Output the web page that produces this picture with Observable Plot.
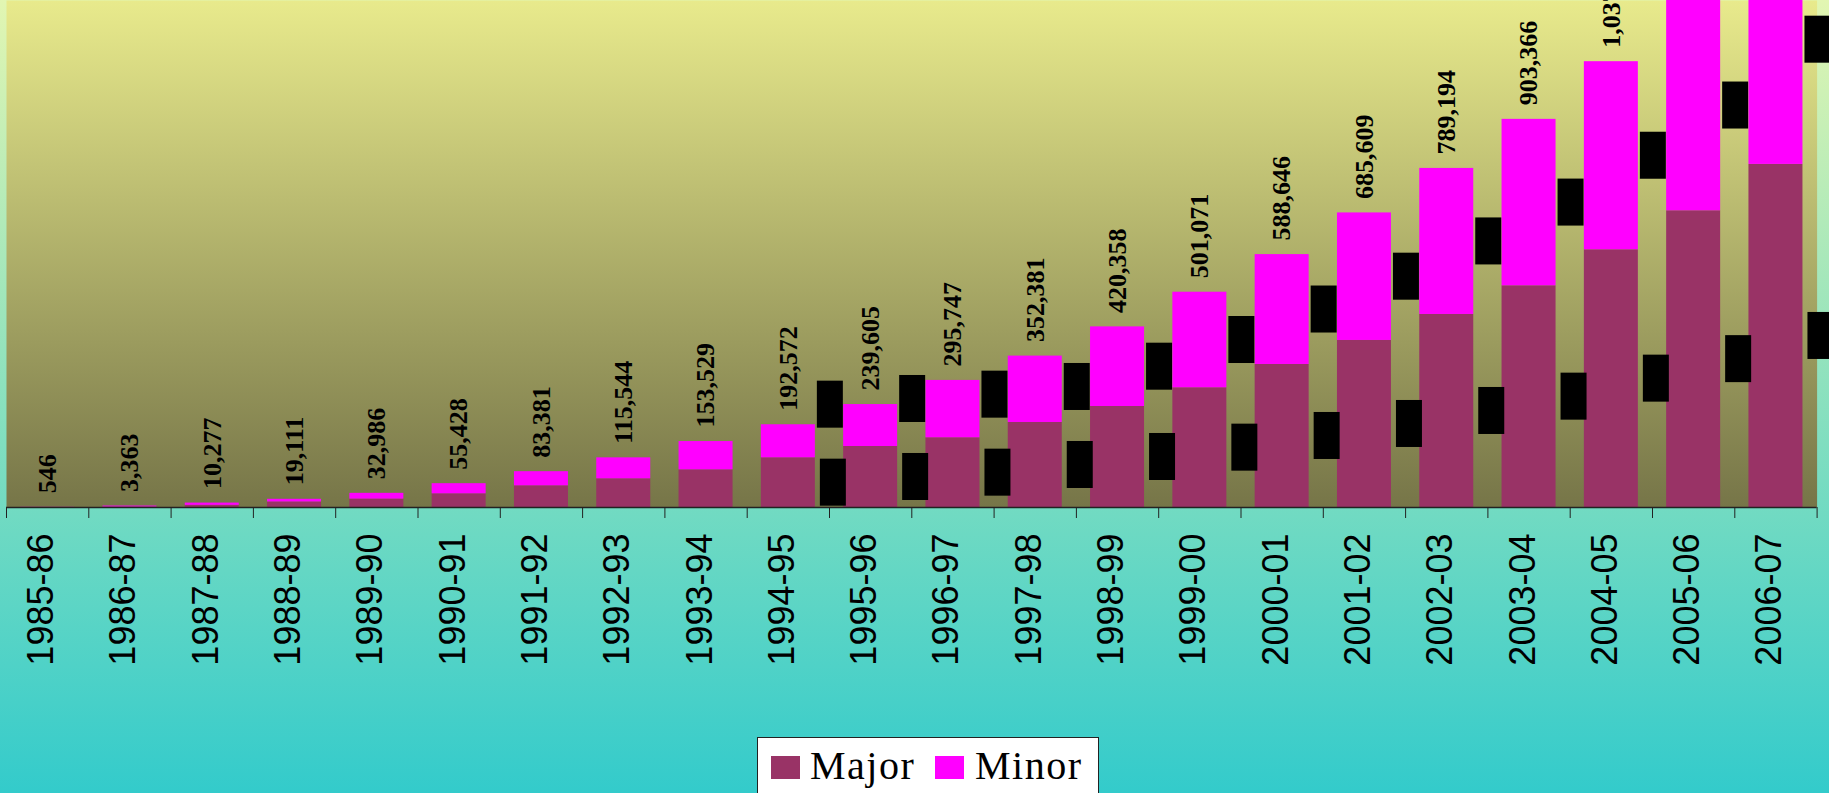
<!DOCTYPE html>
<html>
<head>
<meta charset="utf-8">
<script src="https://cdn.jsdelivr.net/npm/d3@7"></script>
<script src="https://cdn.jsdelivr.net/npm/@observablehq/plot@0.6"></script>
<style>
  html, body { margin: 0; padding: 0; }
  body {
    width: 1829px; height: 793px; overflow: hidden; position: relative;
    background: linear-gradient(to bottom, #e2f6b2 0%, #33cbcb 100%);
  }
  #chart svg { display: block; }
  #legend {
    position: absolute; left: 757px; top: 737px; width: 342px; height: 60px;
    box-sizing: border-box; background: #ffffff; border: 1px solid #222;
    font-family: "Liberation Serif", serif; font-size: 40px; color: #000;
  }
  #legend .sw { position: absolute; top: 18px; width: 29px; height: 23px; }
  #legend .lt { position: absolute; top: 8px; line-height: 40px; letter-spacing: 1.5px; white-space: nowrap; }
</style>
</head>
<body>
<div id="chart"></div>
<div id="legend"></div>
<script>
// ---- data ----
const years = ["1985-86","1986-87","1987-88","1988-89","1989-90","1990-91","1991-92","1992-93",
  "1993-94","1994-95","1995-96","1996-97","1997-98","1998-99","1999-00","2000-01","2001-02",
  "2002-03","2003-04","2004-05","2005-06","2006-07"];
const major = [300, 1200, 5000, 12800, 19500, 31800, 50400, 66700, 87600, 115600, 142000, 162200,
  197900, 235100, 278600, 332900, 388800, 449300, 516000, 599800, 690600, 798500];
const minor = [246, 2163, 5277, 6311, 13486, 23628, 32981, 48844, 65929, 76972, 97605, 133547,
  154481, 185258, 222471, 255746, 296809, 339894, 387366, 437800, 489900, 580600];
const seriesNames = ["Major", "Minor"];
const seriesColors = ["#993366", "#ff00ff"];
const segmentLabelFrom = "1994-95";

// ---- layout ----
const W = 1829, H = 737;
const mL = 6, mR = 12.4, mT = 0, mB = 230;
const yMax = 1180000;
const plotH = H - mT - mB;
const uPx = yMax / plotH;               // data units per pixel
const step = (W - mL - mR) / years.length;
const fmt = d3.format(",");

const rows = years.flatMap((yr, i) => [
  {year: yr, series: seriesNames[0], value: major[i]},
  {year: yr, series: seriesNames[1], value: minor[i]}
]);
const totals = years.map((yr, i) => ({year: yr, total: major[i] + minor[i]}));
const startIdx = years.indexOf(segmentLabelFrom);
const segs = years.map((yr, i) => ({
  year: yr, i,
  lo: major[i] / 2,
  hi: Math.max(major[i] + minor[i] / 2, major[i] / 2 + 78 * uPx)
})).filter(d => d.i >= startIdx);

const chart = Plot.plot({
  width: W, height: H,
  marginLeft: mL, marginRight: mR, marginTop: mT, marginBottom: mB,
  style: {background: "transparent", color: "#000", overflow: "visible"},
  x: {type: "band", domain: years, paddingInner: 0.344, paddingOuter: 0.172, round: false, axis: null},
  y: {domain: [0, yMax], axis: null},
  color: {domain: seriesNames, range: seriesColors},
  marks: [
    Plot.frame({fill: "url(#plotGrad)", stroke: "none"}),
    Plot.barY(rows, {x: "year", y: "value", fill: "series"}),
    // segment data labels rendered as solid black boxes
    Plot.barY(segs, {x: "year", y1: "lo", y2: "lo", fill: "black",
      insetTop: -23.5, insetBottom: -23.5, insetLeft: 14, insetRight: 14, dx: 45}),
    Plot.barY(segs, {x: "year", y1: "hi", y2: "hi", fill: "black",
      insetTop: -23.5, insetBottom: -23.5, insetLeft: 14, insetRight: 14, dx: 42}),
    // totals
    Plot.text(totals, {x: "year", y: "total", text: d => fmt(d.total), rotate: -90,
      textAnchor: "start", dy: -14, fontSize: 26, fontWeight: "bold",
      fontFamily: "Liberation Serif", fill: "black"}),
    // axis line
    Plot.ruleY([0], {stroke: "#222", strokeWidth: 1.3}),
    // category boundary ticks
    Plot.ruleX(years, {x: d => d, dx: -step / 2, y1: 0, y2: -11 * uPx, stroke: "#222"}),
    Plot.ruleX([years[years.length - 1]], {x: d => d, dx: step / 2, y1: 0, y2: -11 * uPx, stroke: "#222"}),
    // tick labels
    Plot.axisX({tickSize: 0, tickPadding: 26, tickRotate: -90, fontSize: 36,
      fontFamily: "Liberation Sans", dx: -6, label: null, fill: "black"})
  ]
});

// gradient for plot area
const svg = d3.select(chart);
const grad = svg.insert("defs", ":first-child").append("linearGradient")
  .attr("id", "plotGrad").attr("x1", 0).attr("y1", 0).attr("x2", 0).attr("y2", 1);
grad.append("stop").attr("offset", "0%").attr("stop-color", "#e8ea8c");
grad.append("stop").attr("offset", "100%").attr("stop-color", "#767548");

document.getElementById("chart").appendChild(chart);

// legend
const legend = d3.select("#legend");
const swLeft = [13, 177], txLeft = [52, 217];
seriesNames.forEach((name, i) => {
  legend.append("span").attr("class", "sw").style("left", swLeft[i] + "px").style("background", seriesColors[i]);
  legend.append("span").attr("class", "lt").style("left", txLeft[i] + "px").text(name);
});
</script>
</body>
</html>
